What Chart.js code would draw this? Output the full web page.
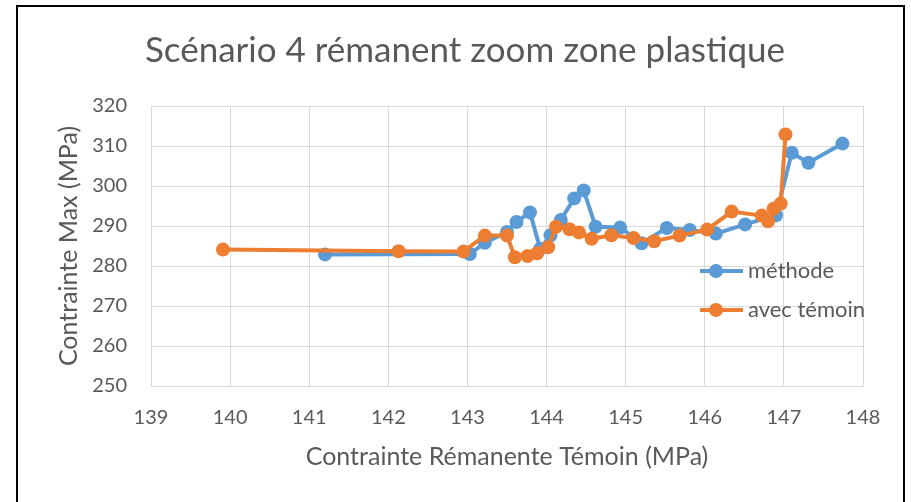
<!DOCTYPE html>
<html>
<head>
<meta charset="utf-8">
<script src="https://cdn.jsdelivr.net/npm/chart.js@4/dist/chart.umd.min.js"></script>
<style>
  html, body { margin: 0; padding: 0; background: #ffffff; }
  #wrap { position: relative; width: 911px; height: 502px; overflow: hidden; }
  #frame { position: absolute; left: 16px; top: 5px; width: 889px; height: 520px; border: 2px solid #000; box-sizing: border-box; pointer-events: none; }
  canvas { position: absolute; left: 0; top: 0; }
</style>
</head>
<body>
<div id="wrap">
  <canvas id="c" width="911" height="502"></canvas>
  <div id="frame"></div>
</div>
<script>
// ---- Data ----
const chartTitle = "Scénario 4 rémanent zoom zone plastique";
const xAxisTitle = "Contrainte Rémanente Témoin (MPa)";
const yAxisTitle = "Contrainte Max (MPa)";
const seriesNames = ["méthode", "avec témoin"];

const methodeX = [141.2, 143.03, 143.22, 143.5, 143.62, 143.79, 143.92, 144.05, 144.18, 144.35, 144.47, 144.62, 144.93, 145.2, 145.52, 145.81, 146.14, 146.51, 146.9, 147.1, 147.31, 147.74];
const methodeY = [282.9, 283.0, 285.8, 288.5, 291.0, 293.4, 284.3, 287.7, 291.5, 296.9, 298.9, 289.8, 289.6, 285.7, 289.5, 289.0, 288.1, 290.4, 292.7, 308.3, 305.8, 310.6];

const temoinX = [139.91, 142.13, 142.95, 143.22, 143.5, 143.6, 143.76, 143.88, 144.02, 144.12, 144.29, 144.41, 144.57, 144.82, 145.1, 145.36, 145.68, 146.03, 146.34, 146.72, 146.8, 146.87, 146.96, 147.02];
const temoinY = [284.1, 283.7, 283.6, 287.6, 287.6, 282.2, 282.5, 283.2, 284.7, 289.8, 289.2, 288.4, 286.8, 287.7, 287.0, 286.2, 287.6, 289.1, 293.6, 292.6, 291.2, 294.3, 295.6, 312.9];

const xTicksRange = [139, 148];
const yTicksRange = [250, 320];

// ---- Styling ----
const BLUE = "#5B9BD5";
const ORANGE = "#ED7D31";
const TEXT = "#595959";
const GRID = "#D9D9D9";
const FONT = "Lato, 'Noto Sans', sans-serif";

function toPoints(xs, ys) { return xs.map((x, i) => ({ x: x, y: ys[i] })); }

const titlePlugin = {
  id: 'customTitle',
  afterDraw(chart) {
    const ctx = chart.ctx;
    ctx.save();
    ctx.font = "35px " + FONT;
    ctx.fillStyle = TEXT;
    ctx.textAlign = "center";
    ctx.textBaseline = "middle";
    ctx.fillText(chartTitle, 465, 51);
    ctx.restore();
  }
};

const legendPlugin = {
  id: 'customLegend',
  afterDraw(chart) {
    const ctx = chart.ctx;
    const rows = [271, 310];
    ctx.save();
    chart.data.datasets.forEach((ds, i) => {
      const y = rows[i];
      ctx.strokeStyle = ds.borderColor;
      ctx.lineWidth = 4;
      ctx.beginPath();
      ctx.moveTo(700, y);
      ctx.lineTo(743, y);
      ctx.stroke();
      ctx.fillStyle = ds.backgroundColor;
      ctx.beginPath();
      ctx.arc(716, y, 7, 0, Math.PI * 2);
      ctx.fill();
      ctx.fillStyle = TEXT;
      ctx.font = "22px " + FONT;
      ctx.textAlign = "left";
      ctx.textBaseline = "middle";
      ctx.fillText(ds.label, 748, y);
    });
    ctx.restore();
  }
};

new Chart(document.getElementById('c'), {
  type: 'scatter',
  data: {
    datasets: [
      {
        label: seriesNames[0],
        data: toPoints(methodeX, methodeY),
        showLine: true,
        borderColor: BLUE,
        backgroundColor: BLUE,
        borderWidth: 4,
        pointRadius: 7,
        pointBorderWidth: 0,
        pointBackgroundColor: BLUE,
        tension: 0,
        order: 1
      },
      {
        label: seriesNames[1],
        data: toPoints(temoinX, temoinY),
        showLine: true,
        borderColor: ORANGE,
        backgroundColor: ORANGE,
        borderWidth: 4,
        pointRadius: 7,
        pointBorderWidth: 0,
        pointBackgroundColor: ORANGE,
        tension: 0,
        order: 0
      }
    ]
  },
  options: {
    responsive: false,
    animation: false,
    devicePixelRatio: 1,
    layout: { padding: { left: 0, right: 48, top: 106, bottom: 0 } },
    plugins: {
      legend: { display: false },
      title: { display: false },
      tooltip: { enabled: false }
    },
    scales: {
      x: {
        type: 'linear',
        min: xTicksRange[0],
        max: xTicksRange[1],
        ticks: { stepSize: 1, padding: 20, color: TEXT, font: { family: FONT, size: 20 } },
        grid: { color: GRID, lineWidth: 1, drawTicks: false },
        border: { color: GRID, width: 1 },
        title: { display: true, text: xAxisTitle, color: TEXT, font: { family: FONT, size: 25 }, padding: { top: 0, bottom: 30 } },
        afterFit: (s) => { s.height = 116; }
      },
      y: {
        type: 'linear',
        min: yTicksRange[0],
        max: yTicksRange[1],
        ticks: { stepSize: 10, padding: 24, color: TEXT, font: { family: FONT, size: 20 } },
        grid: { color: GRID, lineWidth: 1, drawTicks: false },
        border: { color: GRID, width: 1 },
        title: { display: true, text: yAxisTitle, color: TEXT, font: { family: FONT, size: 25 }, padding: { top: 54, bottom: 0 } },
        afterFit: (s) => { s.width = 151; }
      }
    }
  },
  plugins: [titlePlugin, legendPlugin]
});
</script>
</body>
</html>
